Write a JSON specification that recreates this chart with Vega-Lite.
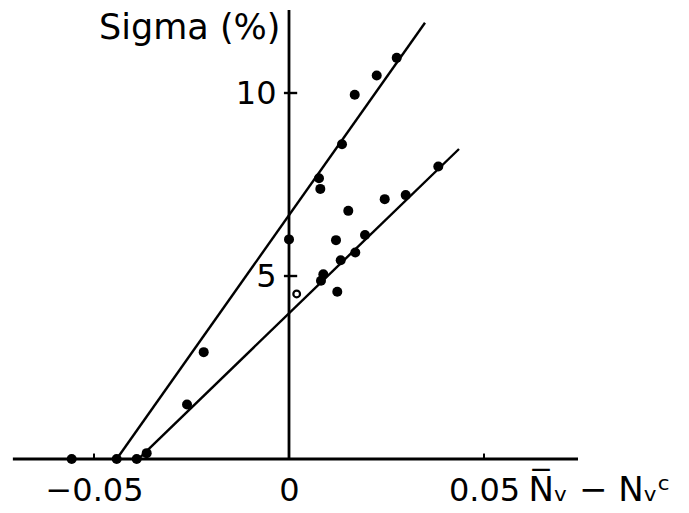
{
  "$schema": "https://vega.github.io/schema/vega-lite/v6.json",
  "width": 689,
  "height": 513,
  "autosize": {"type": "none"},
  "padding": 0,
  "background": "white",
  "config": {"view": {"stroke": null}, "font": "DejaVu Sans"},
  "datasets": {
    "axes": [
      {"x": -0.0708, "x2": 0.0741, "y": 0, "y2": 0},
      {"x": 0, "x2": 0, "y": 0, "y2": 12.27}
    ],
    "yticks": [
      {"x": -0.0013, "x2": 0.0021, "y": 5},
      {"x": -0.0013, "x2": 0.0021, "y": 10}
    ],
    "xticks": [
      {"x": -0.05, "y": 0, "y2": 0.15},
      {"x": 0.05, "y": 0, "y2": 0.15}
    ],
    "fits": [
      {"fit": "upper", "x": -0.04418, "y": 0, "x2": 0.03487, "y2": 11.92},
      {"fit": "lower", "x": -0.03864, "y": 0, "x2": 0.04359, "y2": 8.47}
    ],
    "points": [
      {"x": 0.00769, "y": 7.67},
      {"x": 0.00803, "y": 7.38},
      {"x": 0.0152, "y": 6.78},
      {"x": 0.0, "y": 6.0},
      {"x": 0.01205, "y": 5.98},
      {"x": 0.01949, "y": 6.12},
      {"x": 0.02454, "y": 7.1},
      {"x": 0.02992, "y": 7.21},
      {"x": 0.03828, "y": 7.99},
      {"x": 0.017, "y": 5.64},
      {"x": 0.01326, "y": 5.43},
      {"x": 0.0088, "y": 5.05},
      {"x": 0.0082, "y": 4.87},
      {"x": 0.01238, "y": 4.57},
      {"x": 0.02762, "y": 10.96},
      {"x": 0.02249, "y": 10.48},
      {"x": 0.01685, "y": 9.95},
      {"x": 0.01359, "y": 8.6},
      {"x": -0.02187, "y": 2.92},
      {"x": -0.02615, "y": 1.49},
      {"x": -0.05572, "y": 0},
      {"x": -0.04418, "y": 0},
      {"x": -0.03905, "y": 0},
      {"x": -0.03649, "y": 0.16}
    ],
    "open": [
      {"x": 0.00197, "y": 4.51}
    ]
  },
  "layer": [
    {
      "data": {"name": "axes"},
      "mark": {"type": "rule", "color": "black", "strokeWidth": 2.8},
      "encoding": {
        "x": {
          "field": "x",
          "type": "quantitative",
          "scale": {"domain": [-0.0741, 0.10256], "nice": false, "zero": false},
          "axis": {
            "values": [-0.05, 0, 0.05],
            "format": "~g",
            "offset": -54,
            "domain": false,
            "ticks": false,
            "grid": false,
            "labelFont": "DejaVu Sans",
            "labelFontSize": 32,
            "labelColor": "black",
            "labelPadding": 16,
            "labelBaseline": "top",
            "labelFlush": false,
            "labelOverlap": false,
            "title": "N̅ᵥ − Nᵥᶜ",
            "titleFont": "DejaVu Sans",
            "titleFontSize": 34,
            "titleFontWeight": "normal",
            "titleColor": "black",
            "titleX": 528,
            "titleY": 41,
            "titleAlign": "left",
            "titleBaseline": "alphabetic"
          }
        },
        "x2": {"field": "x2"},
        "y": {
          "field": "y",
          "type": "quantitative",
          "scale": {"domain": [-1.475, 12.541], "nice": false, "zero": false},
          "axis": {
            "values": [5, 10],
            "offset": -289,
            "domain": false,
            "ticks": false,
            "grid": false,
            "labelFont": "DejaVu Sans",
            "labelFontSize": 32,
            "labelColor": "black",
            "labelPadding": 13,
            "labelFlush": false,
            "labelOverlap": false,
            "title": "Sigma (%)",
            "titleFont": "DejaVu Sans",
            "titleFontSize": 35,
            "titleFontWeight": "normal",
            "titleColor": "black",
            "titleAngle": 0,
            "titleX": -9,
            "titleY": 38,
            "titleAlign": "right",
            "titleBaseline": "alphabetic"
          }
        },
        "y2": {"field": "y2"}
      }
    },
    {
      "data": {"name": "yticks"},
      "mark": {"type": "rule", "color": "black", "strokeWidth": 2.4},
      "encoding": {
        "x": {"field": "x", "type": "quantitative"},
        "x2": {"field": "x2"},
        "y": {"field": "y", "type": "quantitative"}
      }
    },
    {
      "data": {"name": "xticks"},
      "mark": {"type": "rule", "color": "black", "strokeWidth": 2},
      "encoding": {
        "x": {"field": "x", "type": "quantitative"},
        "y": {"field": "y", "type": "quantitative"},
        "y2": {"field": "y2"}
      }
    },
    {
      "data": {"name": "fits"},
      "mark": {"type": "rule", "color": "black", "strokeWidth": 2.4},
      "encoding": {
        "x": {"field": "x", "type": "quantitative"},
        "x2": {"field": "x2"},
        "y": {"field": "y", "type": "quantitative"},
        "y2": {"field": "y2"}
      }
    },
    {
      "data": {"name": "points"},
      "mark": {"type": "point", "shape": "circle", "filled": true, "color": "black", "size": 100, "opacity": 1},
      "encoding": {
        "x": {"field": "x", "type": "quantitative"},
        "y": {"field": "y", "type": "quantitative"}
      }
    },
    {
      "data": {"name": "open"},
      "mark": {"type": "point", "shape": "circle", "filled": false, "color": "black", "size": 45, "strokeWidth": 2.2, "opacity": 1},
      "encoding": {
        "x": {"field": "x", "type": "quantitative"},
        "y": {"field": "y", "type": "quantitative"}
      }
    }
  ]
}
